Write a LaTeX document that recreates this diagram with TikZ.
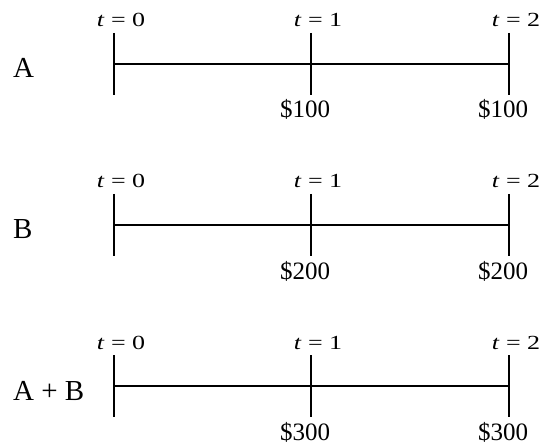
\documentclass[tikz,border=0pt]{standalone}
\usepackage{fontspec}
\setmainfont{Liberation Serif}
\usepackage{graphicx}
\usepackage{tikz}
\usetikzlibrary{positioning}

\begin{document}
\begin{tikzpicture}[x=1pt, y=-1pt,
    every node/.style={inner sep=0pt, anchor=base},
    rowlabel/.style={anchor=base west, font=\fontsize{29}{33}\selectfont},
    timelabel/.style={font=\fontsize{20}{24}\selectfont},
    cashlabel/.style={font=\fontsize{25}{29}\selectfont},
    axis/.style={line width=1.5pt}]
    \useasboundingbox (0,0) rectangle (543,446);
    % one time line per project
    \foreach \r/\y/\lab/\amt in {a/64/A/100, b/225/B/200, c/386/A + B/300} {
      \node[rowlabel] (lab-\r) at (13,\y+14) {\lab};
      \foreach \i/\x in {0/114, 1/311, 2/509} {
        \coordinate (top-\r\i) at (\x,\y-31);
        \coordinate (mid-\r\i) at (\x,\y);
        \coordinate (bot-\r\i) at (\x,\y+31);
        \draw[axis] (top-\r\i) -- (bot-\r\i);
        \node[timelabel] (t-\r\i) at (\x+7,\y-37) {\scalebox{1.3}[1]{\textit{t} = \i}};
      }
      \draw[axis] (mid-\r0) -- (mid-\r2);
      \foreach \i/\x in {1/311, 2/509}
        \node[cashlabel] (cf-\r\i) at (\x-6,\y+54) {\$\amt};
    }
\end{tikzpicture}
\end{document}
